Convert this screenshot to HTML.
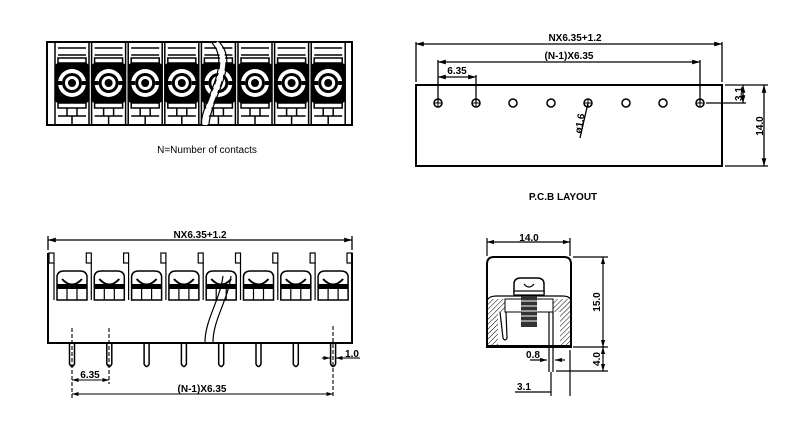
<!DOCTYPE html>
<html><head><meta charset="utf-8"><style>
html,body{margin:0;padding:0;background:#fff}
svg{display:block}
text{font-family:"Liberation Sans",sans-serif;font-size:10px;font-weight:bold;fill:#000}
</style></head><body>
<svg width="800" height="441" viewBox="0 0 800 441" xmlns="http://www.w3.org/2000/svg">
<defs>
<marker id="a" viewBox="0 0 10 6" refX="10" refY="3" markerWidth="6" markerHeight="4" orient="auto-start-reverse"><path d="M0,0L10,3L0,6z"/></marker>
<pattern id="h" width="3.5" height="3.5" patternUnits="userSpaceOnUse" patternTransform="rotate(45)"><rect width="3.5" height="3.5" fill="#fff"/><line x1="0" y1="0" x2="0" y2="3.5" stroke="#000" stroke-width="1"/></pattern>
</defs>
<g stroke="#000" fill="none" stroke-width="1.5">
<rect x="47" y="42" width="305" height="83" stroke-width="2"/>
<g id="cells">
<g transform="translate(72,0)">
<line x1="-17" y1="42" x2="-17" y2="125"/><line x1="17" y1="42" x2="17" y2="125"/>
<line x1="-14" y1="48" x2="14" y2="48"/><line x1="-14" y1="55" x2="14" y2="55"/>
<rect x="-14" y="58" width="28" height="5"/>
<rect x="-16" y="64" width="32" height="38" fill="#000" rx="2"/>
<circle cx="0" cy="83" r="14" fill="#fff" stroke="none"/>
<circle cx="0" cy="83" r="10" fill="#000" stroke="none"/>
<circle cx="0" cy="83" r="7" fill="#fff" stroke="none"/>
<circle cx="0" cy="83" r="4" fill="#000" stroke="none"/>
<line x1="-16" y1="83" x2="-10" y2="83" stroke="#000" stroke-width="4"/>
<line x1="10" y1="83" x2="16" y2="83" stroke="#000" stroke-width="4"/>
<rect x="-14" y="103" width="28" height="5"/>
<line x1="-14" y1="116" x2="14" y2="116"/>
<line x1="-5" y1="108" x2="-5" y2="116"/><line x1="5" y1="108" x2="5" y2="116"/>
<line x1="0" y1="116" x2="0" y2="125"/>
</g>
</g>
<use href="#cells" x="36.6"/><use href="#cells" x="73.2"/><use href="#cells" x="109.8"/><use href="#cells" x="146.4"/><use href="#cells" x="183"/><use href="#cells" x="219.6"/><use href="#cells" x="256.2"/>
<path d="M216,43 C236,65 206,100 205,125" stroke="#fff" stroke-width="5"/>
<path d="M212,43 C232,65 202,100 201,125 M220,43 C240,65 210,100 209,125" stroke-width="1.2"/>

<rect x="416" y="85" width="306" height="81" stroke-width="2"/>
<g stroke-width="1.3">
<line x1="416" y1="42" x2="416" y2="82"/><line x1="722" y1="42" x2="722" y2="82"/>
<line x1="416" y1="44" x2="722" y2="44" marker-start="url(#a)" marker-end="url(#a)"/>
<line x1="438" y1="60" x2="438" y2="103"/><line x1="476" y1="75" x2="476" y2="103"/><line x1="700" y1="60" x2="700" y2="103"/>
<line x1="438" y1="62" x2="700" y2="62" marker-start="url(#a)" marker-end="url(#a)"/>
<line x1="438" y1="77" x2="476" y2="77" marker-start="url(#a)" marker-end="url(#a)"/>
<line x1="725" y1="85" x2="768" y2="85"/><line x1="725" y1="166" x2="768" y2="166"/>
<line x1="706" y1="103" x2="746" y2="103"/>
<line x1="743" y1="85" x2="743" y2="103" marker-start="url(#a)" marker-end="url(#a)"/>
<line x1="764" y1="85" x2="764" y2="166" marker-start="url(#a)" marker-end="url(#a)"/>
<line x1="588" y1="103" x2="580" y2="138"/>
</g>
<g stroke-width="1.5">
<circle cx="438" cy="103" r="4"/><circle cx="476" cy="103" r="4"/><circle cx="513" cy="103" r="4"/><circle cx="551" cy="103" r="4"/><circle cx="588" cy="103" r="4"/><circle cx="626" cy="103" r="4"/><circle cx="663" cy="103" r="4"/><circle cx="700" cy="103" r="4"/>
<path d="M434,103h8M438,99v8M472,103h8M476,99v8M584,103h8M588,99v8M696,103h8M700,99v8" stroke-width="1"/>
</g>

<g stroke-width="1.3">
<line x1="48" y1="236" x2="48" y2="250"/><line x1="352" y1="236" x2="352" y2="250"/>
<line x1="48" y1="240" x2="352" y2="240" marker-start="url(#a)" marker-end="url(#a)"/>
</g>
<path d="M48,253 V343 H352 V253" stroke-width="2"/>
<g id="heads">
<g transform="translate(72,0)">
<rect x="-23" y="253" width="5" height="10" stroke-width="1.2"/>
<line x1="-18" y1="263" x2="-18" y2="300" stroke-width="1.2"/>
<path d="M-15,300 V276 Q-14,271 -8,271 H8 Q14,271 15,276 V300 Z" stroke-width="1.5"/>
<path d="M-10,279 Q0,290 10,279" stroke-width="2"/>
<rect x="-15" y="284" width="30" height="5" fill="#000" stroke="none"/>
<line x1="-5" y1="289" x2="-5" y2="300" stroke-width="1.2"/><line x1="5" y1="289" x2="5" y2="300" stroke-width="1.2"/>
<path d="M-2.5,343 V364 Q0,369 2.5,364 V343" stroke-width="1.5"/>
</g>
</g>
<use href="#heads" x="37.3"/><use href="#heads" x="74.6"/><use href="#heads" x="111.9"/><use href="#heads" x="149.2"/><use href="#heads" x="186.5"/><use href="#heads" x="223.8"/><use href="#heads" x="261.1"/>
<rect x="347" y="253" width="5" height="10" stroke-width="1.2"/>
<path d="M205,342 C205,320 220,300 223,276 M213,342 C213,320 228,300 231,276" stroke-width="1.2"/>
<g stroke-width="1.1">
<line x1="72" y1="328" x2="72" y2="398" stroke-dasharray="4,2"/>
<line x1="109" y1="328" x2="109" y2="384" stroke-dasharray="4,2"/>
<line x1="333" y1="326" x2="333" y2="398" stroke-dasharray="4,2"/>
<line x1="72" y1="380" x2="109" y2="380" marker-start="url(#a)" marker-end="url(#a)"/>
<line x1="72" y1="394" x2="333" y2="394" marker-start="url(#a)" marker-end="url(#a)"/>
<line x1="322" y1="358" x2="330" y2="358" marker-end="url(#a)"/><line x1="347" y1="358" x2="336" y2="358" marker-end="url(#a)"/>
<line x1="347" y1="358" x2="360" y2="358"/>
</g>

<g stroke-width="1.2">
<line x1="487" y1="238" x2="487" y2="256"/><line x1="570" y1="238" x2="570" y2="256"/>
<line x1="487" y1="242" x2="570" y2="242" marker-start="url(#a)" marker-end="url(#a)"/>
<line x1="573" y1="257" x2="608" y2="257"/><line x1="573" y1="347" x2="608" y2="347"/><line x1="556" y1="371" x2="608" y2="371"/>
<line x1="603" y1="257" x2="603" y2="347" marker-start="url(#a)" marker-end="url(#a)"/>
<line x1="603" y1="347" x2="603" y2="371" marker-start="url(#a)" marker-end="url(#a)"/>
<line x1="551" y1="372" x2="551" y2="396"/><line x1="570" y1="350" x2="570" y2="396"/>
<line x1="515" y1="392" x2="551" y2="392"/>
<line x1="530" y1="360" x2="547" y2="360" marker-end="url(#a)"/><line x1="565" y1="360" x2="555" y2="360" marker-end="url(#a)"/>
</g>
<path d="M487,347 V264 Q487,257 494,257 H564 Q571,257 571,264 V347 Z" stroke-width="2"/>
<rect x="488" y="299" width="82" height="47" fill="url(#h)" stroke="none"/>
<path d="M488,299 Q490,296 497,296 H562 Q569,296 570,299" stroke-width="1.3"/>
<rect x="498" y="312" width="62" height="34" fill="#fff" stroke="none"/>
<rect x="505" y="299" width="48" height="13" fill="#fff" stroke-width="1"/>
<path d="M514,294 V284 Q514,278 521,278 H537 Q544,278 544,284 V294 Z" fill="#fff" stroke-width="1.5"/>
<path d="M524,284 Q529,290 534,284" stroke-width="1.2"/>
<rect x="514" y="291" width="30" height="4" fill="#fff" stroke-width="1.2"/>
<rect x="521" y="296" width="16" height="31" fill="#333" stroke="none"/>
<path d="M521,301h16M521,306h16M521,311h16M521,316h16M521,321h16" stroke="#fff" stroke-width="1"/>
<path d="M500,312 L503,338 Q505,342 507,338 L506,312" stroke-width="1.2"/>
<line x1="549" y1="312" x2="549" y2="372" stroke-width="1.2"/><line x1="553" y1="312" x2="553" y2="372" stroke-width="1.2"/>
<path d="M487,346 H571" stroke-width="2"/>
</g>

<text x="575" y="41" text-anchor="middle">NX6.35+1.2</text>
<text x="569" y="59" text-anchor="middle">(N-1)X6.35</text>
<text x="457" y="74" text-anchor="middle">6.35</text>
<text x="563" y="200" text-anchor="middle">P.C.B LAYOUT</text>
<text transform="translate(742,94) rotate(-90)" text-anchor="middle">3.1</text>
<text transform="translate(763,126) rotate(-90)" text-anchor="middle">14.0</text>
<text transform="translate(583,124) rotate(-80)" text-anchor="middle">ø1.6</text>
<text x="207" y="153" text-anchor="middle" style="font-weight:normal">N=Number of contacts</text>
<text x="200" y="238" text-anchor="middle">NX6.35+1.2</text>
<text x="90" y="378" text-anchor="middle">6.35</text>
<text x="202" y="392" text-anchor="middle">(N-1)X6.35</text>
<text x="352" y="357" text-anchor="middle">1.0</text>
<text x="529" y="241" text-anchor="middle">14.0</text>
<text transform="translate(600,302) rotate(-90)" text-anchor="middle">15.0</text>
<text transform="translate(600,359) rotate(-90)" text-anchor="middle">4.0</text>
<text x="533" y="358" text-anchor="middle">0.8</text>
<text x="524" y="390" text-anchor="middle">3.1</text>
</svg>
</body></html>
